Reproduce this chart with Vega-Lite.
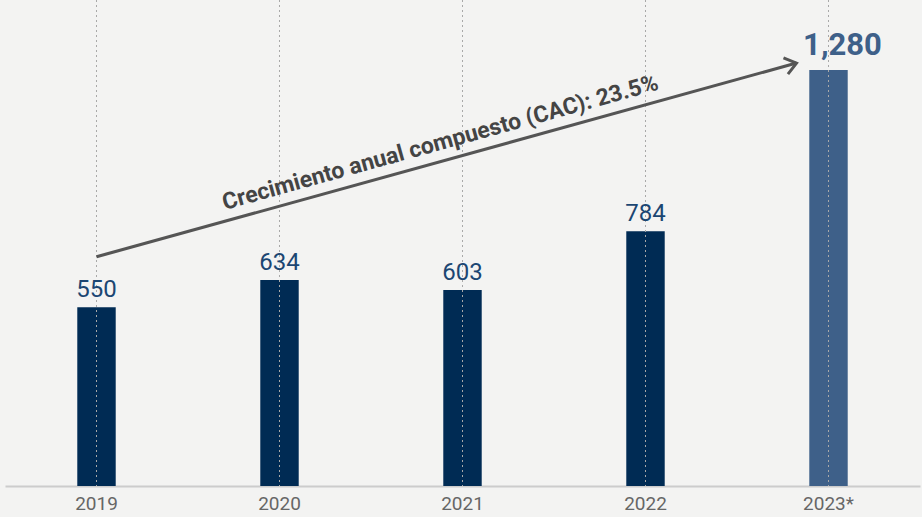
{
  "$schema": "https://vega.github.io/schema/vega-lite/v6.json",
  "width": 922,
  "height": 486,
  "autosize": "none",
  "padding": {"left": 0, "top": 0, "right": 0, "bottom": 31},
  "background": "#f3f3f2",
  "config": {"view": {"stroke": null}, "font": "Roboto"},
  "datasets": {
    "bars": [
      {"year": "2019", "value": 550},
      {"year": "2020", "value": 634},
      {"year": "2021", "value": 603},
      {"year": "2022", "value": 784},
      {"year": "2023*", "value": 1280}
    ],
    "arrow": [
      {"from": "2019", "to": "2023*", "v1": 705, "v2": 1301}
    ],
    "note": [
      {"year": "2021", "v": 1017, "label": "Crecimiento anual compuesto (CAC): 23.5%"}
    ]
  },
  "layer": [
    {
      "data": {"name": "bars"},
      "mark": {"type": "bar"},
      "encoding": {
        "x": {
          "field": "year", "type": "nominal", "sort": null,
          "scale": {"domain": ["2019", "2020", "2021", "2022", "2023*"], "range": [5, 920], "paddingInner": 0.79, "paddingOuter": 0.395},
          "axis": {"title": null, "ticks": false, "labelAngle": 0, "labelFontSize": 19, "labelColor": "#666666", "labelPadding": 8, "domainColor": "#cccccc", "domainWidth": 2, "grid": false}
        },
        "y": {"field": "value", "type": "quantitative", "scale": {"domain": [0, 1495], "nice": false, "zero": true}, "axis": null},
        "color": {"condition": {"test": "datum.year === '2023*'", "value": "#3e6089"}, "value": "#002b54"}
      }
    },
    {
      "data": {"name": "bars"},
      "mark": {"type": "rule", "strokeDash": [2, 3], "color": "#a8a8a8", "strokeWidth": 1},
      "encoding": {
        "x": {"field": "year", "type": "nominal", "sort": null}
      }
    },
    {
      "data": {"name": "bars"},
      "transform": [{"filter": "datum.year !== '2023*'"}],
      "mark": {"type": "text", "baseline": "bottom", "dy": -5, "fontSize": 24, "color": "#1b4672", "fontWeight": "normal"},
      "encoding": {
        "x": {"field": "year", "type": "nominal", "sort": null},
        "y": {"field": "value", "type": "quantitative"},
        "text": {"field": "value", "type": "quantitative", "format": ","}
      }
    },
    {
      "data": {"name": "bars"},
      "transform": [{"filter": "datum.year === '2023*'"}],
      "mark": {"type": "text", "baseline": "bottom", "dy": -8, "dx": 14, "fontSize": 31, "color": "#3e6089", "fontWeight": "bold"},
      "encoding": {
        "x": {"field": "year", "type": "nominal", "sort": null},
        "y": {"field": "value", "type": "quantitative"},
        "text": {"field": "value", "type": "quantitative", "format": ","}
      }
    },
    {
      "data": {"name": "arrow"},
      "mark": {"type": "rule", "color": "#555555", "strokeWidth": 3},
      "encoding": {
        "x": {"field": "from", "type": "nominal", "bandPosition": 0.5},
        "x2": {"field": "to", "bandPosition": -0.333},
        "y": {"field": "v1", "type": "quantitative"},
        "y2": {"field": "v2"}
      }
    },
    {
      "data": {"name": "arrow"},
      "mark": {"type": "point", "shape": "M-1,-0.75L0,0L-1,0.75", "filled": false, "stroke": "#555555", "strokeWidth": 3, "size": 500, "angle": 344.5, "opacity": 1},
      "encoding": {
        "x": {"field": "to", "type": "nominal", "bandPosition": -0.333},
        "y": {"field": "v2", "type": "quantitative"}
      }
    },
    {
      "data": {"name": "note"},
      "mark": {"type": "text", "angle": 344.5, "align": "center", "baseline": "alphabetic", "dx": -18, "dy": -11, "fontSize": 23, "fontWeight": "bold", "color": "#444444"},
      "encoding": {
        "x": {"field": "year", "type": "nominal"},
        "y": {"field": "v", "type": "quantitative"},
        "text": {"field": "label"}
      }
    }
  ]
}
